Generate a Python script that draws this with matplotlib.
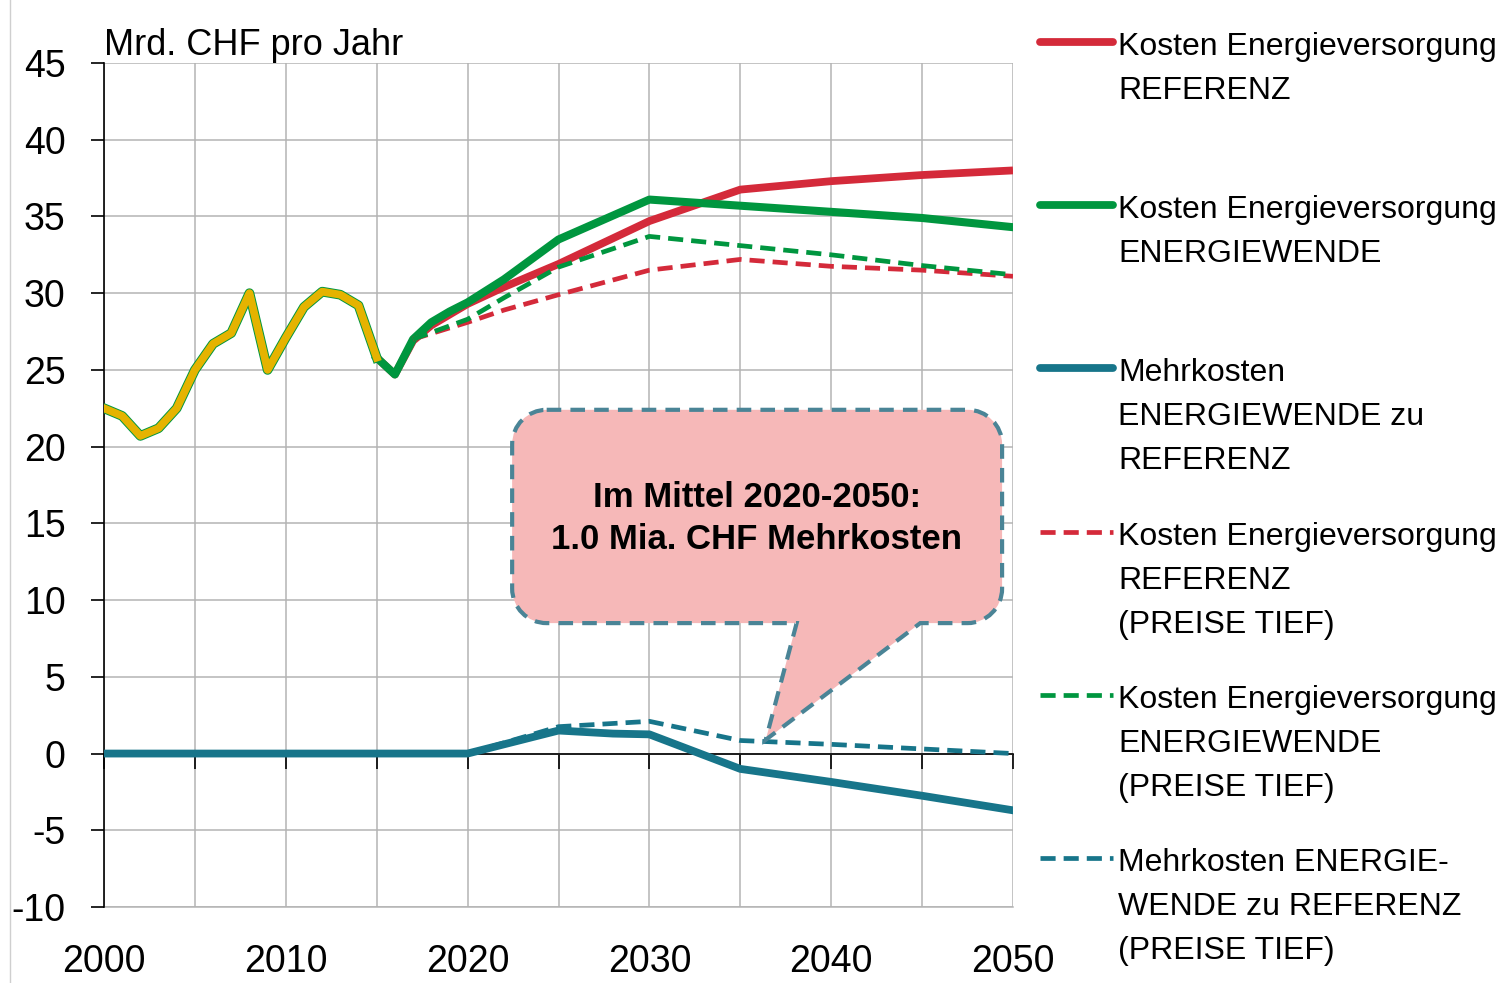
import numpy as np
import matplotlib
matplotlib.use("Agg")
import matplotlib.pyplot as plt
from matplotlib.path import Path
from matplotlib.patches import PathPatch
from matplotlib.lines import Line2D

plt.rcParams['font.family'] = ['Liberation Sans', 'DejaVu Sans']
plt.rcParams['axes.unicode_minus'] = False

# historische Kosten (2000-2015)
hist_years = list(range(2000, 2016))
hist_vals = [22.5, 22.0, 20.7, 21.2, 22.5, 25.0, 26.7, 27.4, 30.0, 25.0,
             27.1, 29.1, 30.1, 29.9, 29.2, 25.8]

# Kosten Energieversorgung REFERENZ / ENERGIEWENDE
scen_years = [2015, 2016, 2017, 2018, 2019, 2020, 2022, 2025, 2030, 2035, 2040, 2045, 2050]
ref_vals = [25.8, 24.7, 26.9, 27.9, 28.6, 29.3, 30.4, 31.9, 34.7, 36.75, 37.3, 37.7, 38.0]
ew_vals = [25.8, 24.7, 27.0, 28.1, 28.8, 29.4, 30.9, 33.5, 36.1, 35.7, 35.3, 34.9, 34.3]

# PREISE TIEF
low_years = [2017, 2020, 2022, 2025, 2030, 2035, 2040, 2045, 2050]
ref_low_vals = [27.0, 28.1, 28.9, 29.9, 31.5, 32.2, 31.75, 31.5, 31.1]
ew_low_vals = [27.0, 28.3, 29.7, 31.7, 33.7, 33.1, 32.5, 31.8, 31.2]

# Mehrkosten ENERGIEWENDE zu REFERENZ
mk_years = [2000, 2005, 2010, 2015, 2020, 2023, 2025, 2028, 2030, 2035, 2040, 2045, 2050]
mk_vals = [0, 0, 0, 0, 0, 0.9, 1.5, 1.3, 1.25, -1.0, -1.85, -2.75, -3.7]
mk_low_years = [2020, 2025, 2030, 2035, 2040, 2045, 2050]
mk_low_vals = [0, 1.75, 2.1, 0.85, 0.6, 0.3, 0.0]

RED = '#d42a3a'
GREEN = '#00963f'
BLUE = '#17758a'
YELLOW = '#e5b300'
BORDER = '#4a8496'
GRID = '#b4b4b4'

W, H = 1507, 983
fig = plt.figure(figsize=(W / 100, H / 100), dpi=100)
ax = fig.add_axes([104 / W, 1 - 907 / H, (1013 - 104) / W, (907 - 63) / H])

ax.plot(scen_years, ref_vals, color=RED, lw=5.6, solid_capstyle='butt', zorder=3)
ax.plot(scen_years, ew_vals, color=GREEN, lw=5.8, solid_joinstyle='round', zorder=4)
ax.plot(hist_years, hist_vals, color=GREEN, lw=7.0, solid_joinstyle='round', zorder=4)
ax.plot(low_years, ref_low_vals, color=RED, lw=3.4, dashes=(3.2, 1.7), zorder=5)
ax.plot(low_years, ew_low_vals, color=GREEN, lw=3.4, dashes=(3.2, 1.7), zorder=5)
ax.plot(mk_years, mk_vals, color=BLUE, lw=5.6, zorder=4)
ax.plot(mk_low_years, mk_low_vals, color=BLUE, lw=3.4, dashes=(3.2, 1.7), zorder=5)
ax.plot(hist_years, hist_vals, color=YELLOW, lw=5.6, solid_joinstyle='round', zorder=6)

ax.set_xlim(2000, 2050)
ax.set_ylim(-10, 45)
ax.set_xticks(np.arange(2000, 2051, 5))
ax.set_yticks(np.arange(-10, 46, 5))
ax.grid(True, color=GRID, lw=1.1, zorder=0)
ax.set_axisbelow(True)
for s in ['top', 'right']:
    ax.spines[s].set_visible(False)
ax.spines['bottom'].set_position(('data', 0))
ax.spines['bottom'].set_linewidth(1.2)
ax.spines['left'].set_linewidth(1.2)
ax.tick_params(axis='x', direction='out', length=11, width=1.2, labelbottom=False)
ax.tick_params(axis='y', direction='out', length=9.5, width=1.2, pad=18, labelsize=27)

sec = ax.secondary_xaxis('bottom')
sec.set_xticks(np.arange(2000, 2051, 10))
sec.tick_params(length=0, pad=27, labelsize=27)
sec.spines['bottom'].set_color(GRID)
sec.spines['bottom'].set_linewidth(1.1)

ax.text(0, 1 + 8 / 844, 'Mrd. CHF pro Jahr', transform=ax.transAxes,
        ha='left', va='baseline', fontsize=26)

# Sprechblase
x0, x1, y0, y1 = 2022.45, 2049.4, 8.5, 22.4
rx, ry = 1.9, 2.25
xa, xb, tip = 2038.1, 2044.9, (2036.4, 0.9)
k = 0.5523
verts = [(x0 + rx, y1), (x1 - rx, y1),
         (x1 - rx + k * rx, y1), (x1, y1 - ry + k * ry), (x1, y1 - ry),
         (x1, y0 + ry),
         (x1, y0 + ry - k * ry), (x1 - rx + k * rx, y0), (x1 - rx, y0),
         (xb, y0), tip, (xa, y0), (x0 + rx, y0),
         (x0 + rx - k * rx, y0), (x0, y0 + ry - k * ry), (x0, y0 + ry),
         (x0, y1 - ry),
         (x0, y1 - ry + k * ry), (x0 + rx - k * rx, y1), (x0 + rx, y1),
         (x0 + rx, y1)]
codes = [Path.MOVETO, Path.LINETO,
         Path.CURVE4, Path.CURVE4, Path.CURVE4,
         Path.LINETO,
         Path.CURVE4, Path.CURVE4, Path.CURVE4,
         Path.LINETO, Path.LINETO, Path.LINETO, Path.LINETO,
         Path.CURVE4, Path.CURVE4, Path.CURVE4,
         Path.LINETO,
         Path.CURVE4, Path.CURVE4, Path.CURVE4,
         Path.CLOSEPOLY]
bubble = PathPatch(Path(verts, codes), facecolor='#f6b8b8', edgecolor=BORDER,
                   lw=3.0, linestyle=(0, (3.5, 2.2)), zorder=7, clip_on=False)
ax.add_patch(bubble)
ax.text(2035.9, 15.3, 'Im Mittel 2020-2050:\n1.0 Mia. CHF Mehrkosten',
        ha='center', va='center', fontsize=25, fontweight='bold',
        linespacing=1.35, zorder=8)

# Legende
leg_labels = [
    ['Kosten Energieversorgung', 'REFERENZ'],
    ['Kosten Energieversorgung', 'ENERGIEWENDE'],
    ['Mehrkosten', 'ENERGIEWENDE zu', 'REFERENZ'],
    ['Kosten Energieversorgung', 'REFERENZ', '(PREISE TIEF)'],
    ['Kosten Energieversorgung', 'ENERGIEWENDE', '(PREISE TIEF)'],
    ['Mehrkosten ENERGIE-', 'WENDE zu REFERENZ', '(PREISE TIEF)'],
]
leg_colors = [RED, GREEN, BLUE, RED, GREEN, BLUE]
leg_dashed = [False, False, False, True, True, True]

for i, (lab, col, dsh) in enumerate(zip(leg_labels, leg_colors, leg_dashed)):
    yc = 42 + 163.2 * i
    yf = 1 - yc / H
    if dsh:
        ln = Line2D([1040 / W, 1113 / W], [yf, yf], color=col, lw=3.4,
                    dashes=(3.2, 1.7), transform=fig.transFigure)
    else:
        ln = Line2D([1040 / W, 1113 / W], [yf, yf], color=col, lw=5.6,
                    solid_capstyle='round', transform=fig.transFigure)
    fig.add_artist(ln)
    for j, t in enumerate(lab):
        yb = yc + 13 + 44 * j
        fig.text(1118 / W, 1 - yb / H, t, ha='left', va='baseline', fontsize=23)

fig.add_artist(Line2D([10 / W, 10 / W], [0, 1], color='#cfcfcf', lw=1.0,
                      transform=fig.transFigure))

fig.savefig('out.png', dpi=100)
